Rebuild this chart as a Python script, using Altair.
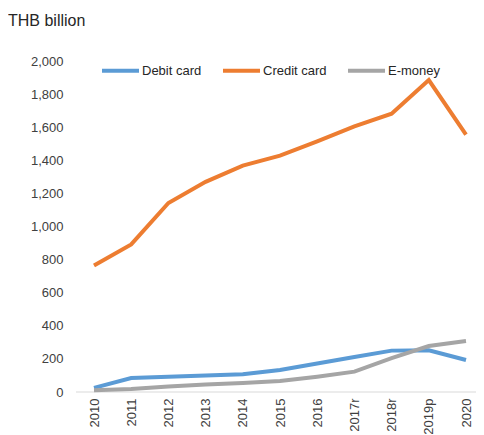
import altair as alt
import pandas as pd

years = ["2010", "2011", "2012", "2013", "2014", "2015", "2016", "2017r", "2018r", "2019p", "2020"]
debit = [25, 84, 92, 100, 107, 133, 172, 211, 250, 252, 193]
credit = [765, 892, 1142, 1270, 1368, 1428, 1515, 1605, 1682, 1885, 1555]
emoney = [10, 18, 33, 45, 55, 66, 92, 123, 205, 278, 308]
series = ["Debit card", "Credit card", "E-money"]
colors = ["#5B9BD5", "#ED7D31", "#A5A5A5"]

rows = []
for name, vals in zip(series, [debit, credit, emoney]):
    for y, v in zip(years, vals):
        rows.append({"year": y, "value": v, "series": name})
df = pd.DataFrame(rows)

FONT = "Liberation Sans"

yaxis = alt.Axis(values=list(range(0, 2001, 200)), format=",.0f", grid=False,
                 ticks=False, domain=False, labelFontSize=13, labelColor="#404040",
                 labelFont=FONT, labelPadding=13)
yscale = alt.Scale(domain=[0, 2000], nice=False)

x = alt.X("year:O", sort=years, title=None,
          scale=alt.Scale(type="point", range=[18, 390], padding=0),
          axis=alt.Axis(labelAngle=270, labelAlign="right", labelBaseline="middle",
                        labelFontSize=13, labelColor="#404040", labelFont=FONT,
                        ticks=False, domain=False, labelPadding=6))
y = alt.Y("value:Q", title=None, scale=yscale, axis=yaxis)

lines = alt.Chart(df).mark_line(strokeWidth=4, strokeCap="butt").encode(
    x=x, y=y,
    color=alt.Color("series:N", sort=series,
                    scale=alt.Scale(domain=series, range=colors),
                    legend=alt.Legend(title=None, orient="none", direction="horizontal",
                                      legendX=24, legendY=-11, symbolType="stroke",
                                      symbolSize=1369, symbolStrokeWidth=4,
                                      labelFontSize=13, labelFont=FONT, labelColor="#262626",
                                      labelOffset=1, columnPadding=13)),
    detail="series:N",
)

base = alt.Chart(pd.DataFrame({"value": [0]})).mark_rule(color="#D9D9D9", strokeWidth=1).encode(
    y=alt.Y("value:Q", title=None, scale=yscale, axis=yaxis),
    x=alt.value(0), x2=alt.value(400),
)

chart = alt.layer(base, lines).properties(
    width=400, height=331,
    autosize=alt.AutoSizeParams(type="none"),
    padding={"left": 68, "top": 53, "right": 0, "bottom": 43},
    title=alt.Title("THB billion", anchor="start", frame="group", dx=-68, offset=21,
                    fontSize=16, font=FONT, fontWeight="normal", color="#262626"),
).configure_view(stroke=None)

chart.save("out.html", embed_options={"renderer": "svg", "actions": False})
